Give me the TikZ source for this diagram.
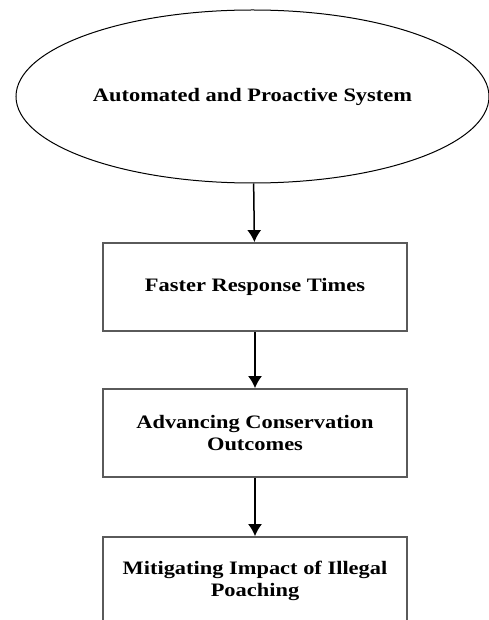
\documentclass[tikz,border=0pt]{standalone}
\usepackage{fontspec}
\usepackage{tikz}
\usetikzlibrary{shapes.geometric,arrows.meta}
\setmainfont{Liberation Serif}[FakeStretch=1.18]
\definecolor{boxgray}{RGB}{90,90,90}

\begin{document}
\begin{tikzpicture}[x=1pt, y=-1pt,
    labeltext/.style={font=\fontsize{19}{22}\selectfont\bfseries, align=center},
    startoval/.style={draw, ellipse, line width=1pt, minimum width=473pt, minimum height=173pt, inner sep=0pt, labeltext},
    stagebox/.style={draw=boxgray, rectangle, line width=1.8pt, minimum width=304pt, minimum height=88pt, inner sep=0pt, labeltext},
    flow/.style={-{Latex[length=12pt, width=14pt]}, line width=1.5pt}]
    \useasboundingbox (0,0) rectangle (489,620);
    \node[startoval] (system) at (252.5,96.5) {Automated and Proactive System};
    \node[stagebox] (response) at (255,287) {Faster Response Times};
    \node[stagebox] (outcomes) at (255,433) {Advancing Conservation\\Outcomes};
    \node[stagebox] (poaching) at (255,581) {Mitigating Impact of Illegal\\Poaching};

    \draw[flow] (system) -- (response);
    \draw[flow] (response) -- (outcomes);
    \draw[flow] (outcomes) -- (poaching);
\end{tikzpicture}
\end{document}
